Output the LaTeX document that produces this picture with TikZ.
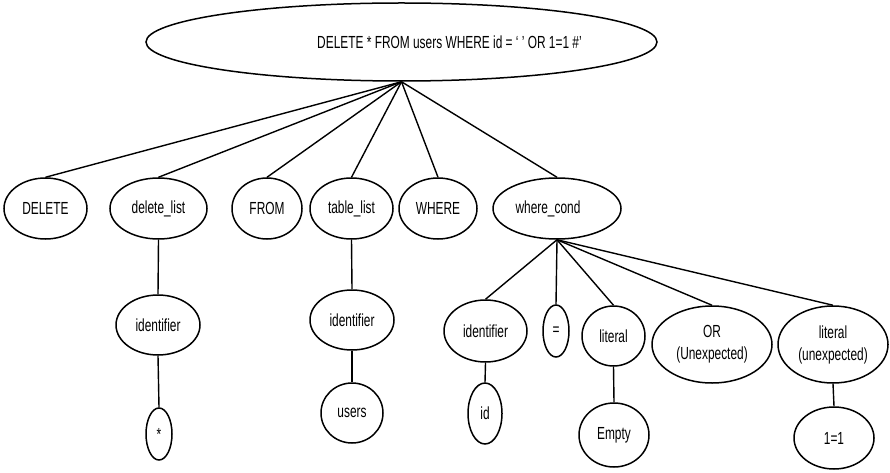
\documentclass[tikz,border=0pt]{standalone}
\usepackage{fontspec}
\setmainfont[FakeStretch=0.68]{Liberation Sans}
\usetikzlibrary{shapes.geometric}

\begin{document}
\begin{tikzpicture}[
    x=1pt, y=-1pt,
    every node/.style={font=\fontsize{17.5}{22}\selectfont},
    pnode/.style={ellipse, draw, line width=1.5pt, inner sep=0pt, align=center},
    edge/.style={line width=1.4pt}
  ]
  \useasboundingbox (0,0) rectangle (890,473);

  % root: the full statement
  \node[pnode, minimum width=511pt, minimum height=78pt] (root) at (401.5,42)
    {\hspace*{96pt}DELETE * FROM users WHERE id = ‘ ’ OR 1=1 \#’};

  % first level
  \node[pnode, minimum width=83pt,  minimum height=61pt] (del)   at (45.5,208.5)  {DELETE};
  \node[pnode, minimum width=97pt,  minimum height=61pt] (dlist) at (158.5,208.5) {delete\_list};
  \node[pnode, minimum width=70pt,  minimum height=61pt] (from)  at (267,208.5)   {FROM};
  \node[pnode, minimum width=83pt,  minimum height=61pt] (tlist) at (351.5,208.5) {table\_list};
  \node[pnode, minimum width=78pt,  minimum height=61pt] (where) at (438,208.5)   {WHERE};
  \node[pnode, minimum width=128pt, minimum height=61pt] (wcond) at (557,208.5)   {where\_cond\hspace*{18pt}};

  % second level
  \node[pnode, minimum width=84pt,  minimum height=60pt] (ident1) at (158,325)   {identifier};
  \node[pnode, minimum width=84pt,  minimum height=60pt] (ident2) at (352,320)   {identifier};
  \node[pnode, minimum width=83pt,  minimum height=62pt] (ident3) at (485.5,331) {identifier};
  \node[pnode, minimum width=26pt,  minimum height=52pt] (eq)     at (556,331)   {=};
  \node[pnode, minimum width=63pt,  minimum height=60pt] (lit1)   at (613.5,336) {literal};
  \node[pnode, minimum width=120pt, minimum height=77pt] (orop)   at (712,344.5) {OR\\(Unexpected)};
  \node[pnode, minimum width=110pt, minimum height=77pt] (lit2)   at (833,344.5) {literal\\(unexpected)};

  % leaves
  \node[pnode, minimum width=26pt, minimum height=52pt] (star)  at (159,434)   {*};
  \node[pnode, minimum width=62pt, minimum height=60pt] (users) at (352,413)   {users};
  \node[pnode, minimum width=34pt, minimum height=61pt] (idv)   at (485,413.5) {id};
  \node[pnode, minimum width=70pt, minimum height=64pt] (empty) at (614,435)   {Empty};
  \node[pnode, minimum width=80pt, minimum height=62pt] (oneq)  at (834,438)   {1=1};

  % connectors
  \foreach \c in {del,dlist,from,tlist,where,wcond}
    \draw[edge] (root.south) -- (\c.north);
  \foreach \c in {ident3,eq,lit1,orop,lit2}
    \draw[edge] (wcond.south) -- (\c.north);
  \draw[edge] (dlist.south)  -- (ident1.north);
  \draw[edge] (ident1.south) -- (star.north);
  \draw[edge] (tlist.south)  -- (ident2.north);
  \draw[edge] (ident2.south) -- (users.north);
  \draw[edge] (ident3.south) -- (idv.north);
  \draw[edge] (lit1.south)   -- (empty.north);
  \draw[edge] (lit2.south)   -- (oneq.north);
\end{tikzpicture}
\end{document}
